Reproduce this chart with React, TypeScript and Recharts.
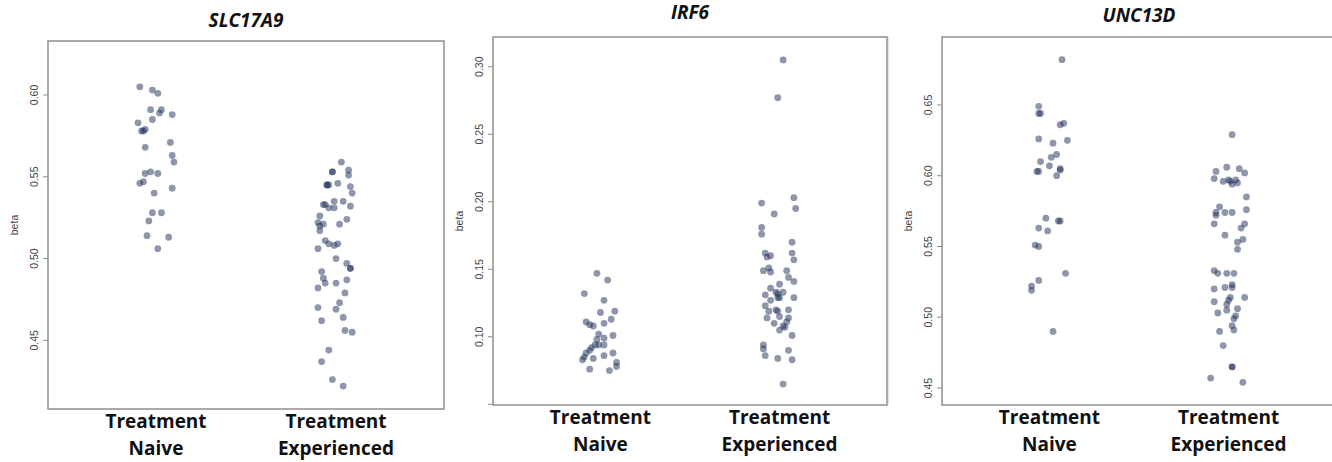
import React from "react";
import { ScatterChart, Scatter, XAxis, YAxis, ReferenceArea } from "recharts";

// group labels (two lines each)
const categories = [
  ["Treatment", "Naive"],
  ["Treatment", "Experienced"],
];

const slcNaiveX = [0.91, 0.98, 1.01, 0.97, 1.03, 1.02, 1.09, 0.98, 0.9, 0.92, 0.93, 0.94, 1.08, 0.94, 1.09, 1.1, 0.97, 1.01, 0.94, 0.93, 0.91, 1.09, 0.99, 0.98, 1.03, 0.96, 0.95, 1.07, 1.01];
const slcNaiveBeta = [0.605, 0.603, 0.601, 0.591, 0.591, 0.589, 0.588, 0.585, 0.583, 0.578, 0.578, 0.579, 0.571, 0.568, 0.563, 0.559, 0.553, 0.552, 0.552, 0.547, 0.546, 0.543, 0.54, 0.528, 0.528, 0.523, 0.514, 0.513, 0.506];
const slcExpX = [2.03, 1.98, 1.98, 2.07, 2.07, 1.95, 1.96, 1.95, 2.01, 2.08, 2.09, 1.93, 1.94, 1.99, 2.04, 1.96, 1.99, 2.08, 1.91, 1.9, 1.93, 2.06, 2.02, 1.91, 1.91, 1.94, 1.96, 1.99, 2.01, 1.9, 2.0, 2.06, 2.08, 2.08, 1.92, 1.93, 1.94, 2.0, 2.06, 1.9, 2.05, 2.02, 1.9, 2.0, 1.92, 2.04, 2.05, 2.09, 1.96, 1.92, 1.98, 2.04];
const slcExpBeta = [0.559, 0.553, 0.553, 0.554, 0.551, 0.545, 0.545, 0.545, 0.546, 0.544, 0.54, 0.533, 0.533, 0.535, 0.535, 0.531, 0.531, 0.532, 0.526, 0.522, 0.521, 0.524, 0.521, 0.52, 0.517, 0.511, 0.509, 0.508, 0.509, 0.506, 0.5, 0.497, 0.494, 0.494, 0.492, 0.488, 0.485, 0.485, 0.487, 0.482, 0.479, 0.473, 0.47, 0.469, 0.462, 0.464, 0.456, 0.455, 0.444, 0.437, 0.426, 0.422];

// IRF6
const irfNaiveX = [0.98, 1.04, 0.91, 1.02, 1.0, 1.08, 0.92, 0.94, 0.96, 1.02, 1.06, 0.99, 1.07, 0.98, 1.02, 0.97, 0.99, 1.02, 0.95, 0.94, 0.92, 0.91, 0.9, 0.96, 1.02, 1.07, 1.09, 1.09, 0.94, 1.05];
const irfNaiveBeta = [0.147, 0.142, 0.132, 0.127, 0.118, 0.119, 0.111, 0.109, 0.108, 0.11, 0.113, 0.102, 0.101, 0.098, 0.099, 0.094, 0.094, 0.094, 0.092, 0.09, 0.088, 0.085, 0.083, 0.084, 0.086, 0.088, 0.081, 0.078, 0.076, 0.075];
const irfExpX = [2.02, 1.99, 2.08, 1.9, 2.09, 1.97, 1.9, 1.9, 2.07, 1.92, 1.93, 1.95, 2.07, 2.08, 1.91, 1.94, 1.95, 2.04, 2.05, 2.08, 2.0, 1.95, 1.98, 1.99, 2.0, 1.99, 2.02, 1.92, 1.95, 2.08, 1.92, 1.98, 1.99, 1.94, 2.05, 2.0, 1.93, 2.05, 2.04, 1.97, 2.02, 2.03, 2.0, 2.07, 1.91, 1.91, 2.05, 1.92, 1.99, 2.07, 2.02];
const irfExpBeta = [0.305, 0.277, 0.203, 0.199, 0.195, 0.191, 0.181, 0.176, 0.17, 0.162, 0.159, 0.16, 0.162, 0.157, 0.149, 0.151, 0.148, 0.149, 0.144, 0.141, 0.139, 0.136, 0.133, 0.132, 0.129, 0.129, 0.133, 0.131, 0.127, 0.129, 0.123, 0.12, 0.119, 0.119, 0.12, 0.115, 0.114, 0.114, 0.111, 0.11, 0.108, 0.107, 0.105, 0.101, 0.094, 0.091, 0.09, 0.086, 0.084, 0.083, 0.065];

// UNC13D
const uncNaiveX = [1.07, 0.94, 0.94, 0.95, 1.06, 1.08, 0.94, 1.02, 1.1, 0.95, 1.01, 1.04, 1.0, 0.93, 0.94, 1.06, 1.06, 1.04, 0.98, 1.05, 1.06, 0.94, 0.99, 0.92, 0.94, 1.09, 0.94, 0.9, 0.9, 1.02];
const uncNaiveBeta = [0.682, 0.649, 0.644, 0.644, 0.636, 0.637, 0.626, 0.623, 0.625, 0.61, 0.613, 0.615, 0.607, 0.603, 0.603, 0.605, 0.604, 0.6, 0.57, 0.568, 0.568, 0.563, 0.561, 0.551, 0.55, 0.531, 0.526, 0.522, 0.519, 0.49];
const uncExpX = [2.02, 1.93, 1.99, 2.06, 2.09, 1.92, 1.97, 2.0, 2.01, 2.04, 2.05, 2.02, 2.1, 1.95, 1.93, 1.93, 1.98, 2.02, 2.1, 1.92, 2.09, 2.07, 1.98, 2.08, 2.05, 2.05, 1.92, 1.94, 1.99, 2.03, 2.02, 2.02, 1.92, 1.98, 2.09, 2.01, 2.0, 1.92, 1.99, 1.94, 1.99, 2.05, 2.04, 2.03, 1.95, 2.02, 2.03, 1.97, 2.02, 2.02, 1.9, 2.08];
const uncExpBeta = [0.629, 0.603, 0.606, 0.605, 0.602, 0.598, 0.596, 0.597, 0.596, 0.597, 0.595, 0.594, 0.585, 0.578, 0.574, 0.572, 0.574, 0.574, 0.576, 0.566, 0.566, 0.563, 0.558, 0.555, 0.553, 0.548, 0.533, 0.531, 0.531, 0.531, 0.523, 0.521, 0.52, 0.521, 0.514, 0.514, 0.512, 0.511, 0.509, 0.503, 0.505, 0.506, 0.501, 0.499, 0.49, 0.494, 0.491, 0.48, 0.465, 0.465, 0.457, 0.454];

const toPoints = (xs: number[], ys: number[]) => xs.map((x, i) => ({ x, y: ys[i] }));

const DOT = "#1e2d5a";
const FRAME = "#8f8f8f";
const TICK_TEXT = "#444";

const Dot = (props: any) => (
  <circle cx={props.cx} cy={props.cy} r={3.4} fill={DOT} fillOpacity={0.5} />
);

interface PanelProps {
  title: string;
  left: number;
  plotLeft: number;
  plotTop: number;
  plotRight: number;
  yDomain: [number, number];
  yTicks: number[];
  labelFrom?: number;
  naive: { x: number; y: number }[];
  experienced: { x: number; y: number }[];
  titleY: number;
}

const W = 460;
const H = 462;
const PLOT_H = 368;

const Panel = ({ title, left, plotLeft, plotTop, plotRight, yDomain, yTicks, labelFrom = 0, naive, experienced, titleY }: PanelProps) => {
  const yAxisW = 40;
  const xAxisH = 50;
  const margin = {
    top: plotTop,
    left: plotLeft - yAxisW,
    right: W - plotRight,
    bottom: H - plotTop - PLOT_H - xAxisH,
  };

  const YTick = ({ x, y, payload }: any) => (
    <g>
      <line x1={x - 5} x2={x} y1={y} y2={y} stroke={FRAME} />
      {payload.value >= labelFrom && (
        <text
          x={x - 14}
          y={y}
          transform={`rotate(-90 ${x - 14} ${y})`}
          textAnchor="middle"
          dominantBaseline="central"
          fontSize={10.5}
          fontFamily="Liberation Sans, Arial, sans-serif"
          fill={TICK_TEXT}
        >
          {payload.value.toFixed(2)}
        </text>
      )}
    </g>
  );

  const XTick = ({ x, y, payload }: any) => {
    const lines = categories[payload.value - 1];
    return (
      <text
        x={x}
        y={y + 19}
        textAnchor="middle"
        fontSize={19}
        fontWeight={700}
        fontFamily="Open Sans, sans-serif"
        fill="#111"
      >
        <tspan x={x}>{lines[0]}</tspan>
        <tspan x={x} dy={27}>{lines[1]}</tspan>
      </text>
    );
  };

  const midX = (plotLeft + plotRight) / 2;

  return (
    <div style={{ position: "absolute", left, top: 0, width: W, height: H }}>
      <div
        style={{
          position: "absolute",
          left: 0,
          width: midX * 2,
          top: titleY - 12,
          textAlign: "center",
          fontFamily: "Open Sans, sans-serif",
          fontWeight: 700,
          fontStyle: "italic",
          fontSize: 19,
          lineHeight: "24px",
          color: "#111",
        }}
      >
        {title}
      </div>
      <div
        style={{
          position: "absolute",
          left: plotLeft - 34 - 20,
          top: plotTop + PLOT_H / 2 - 8,
          width: 40,
          textAlign: "center",
          transform: "rotate(-90deg)",
          fontFamily: "Liberation Sans, Arial, sans-serif",
          fontSize: 10.5,
          lineHeight: "16px",
          color: TICK_TEXT,
        }}
      >
        beta
      </div>
      <div style={{ position: "absolute", left: 0, top: 0 }}>
        <ScatterChart width={W} height={H} margin={margin}>
          <XAxis
            type="number"
            dataKey="x"
            domain={[0.4, 2.6]}
            ticks={[1, 2]}
            height={xAxisH}
            axisLine={false}
            tickLine={false}
            tickSize={0}
            tickMargin={0}
            tick={<XTick />}
            allowDataOverflow
          />
          <YAxis
            type="number"
            dataKey="y"
            domain={yDomain}
            ticks={yTicks}
            width={yAxisW}
            axisLine={false}
            tickLine={false}
            tickSize={0}
            tickMargin={0}
            tick={<YTick />}
            allowDataOverflow
          />
          <ReferenceArea
            x1={0.4}
            x2={2.6}
            y1={yDomain[0]}
            y2={yDomain[1]}
            fill="none"
            stroke={FRAME}
            strokeWidth={1.5}
            ifOverflow="visible"
          />
          <Scatter data={naive} shape={<Dot />} isAnimationActive={false} />
          <Scatter data={experienced} shape={<Dot />} isAnimationActive={false} />
        </ScatterChart>
      </div>
    </div>
  );
};

export default function App() {
  return (
    <div style={{ position: "absolute", left: 0, top: 0, width: 1332, height: 462, overflow: "hidden", background: "#fff" }}>
      <Panel
        title="SLC17A9"
        left={0}
        plotLeft={48}
        plotTop={41}
        plotRight={444}
        yDomain={[0.408, 0.633]}
        yTicks={[0.45, 0.5, 0.55, 0.6]}
        naive={toPoints(slcNaiveX, slcNaiveBeta)}
        experienced={toPoints(slcExpX, slcExpBeta)}
        titleY={20}
      />
      <Panel
        title="IRF6"
        left={444}
        plotLeft={49}
        plotTop={37}
        plotRight={443}
        yDomain={[0.0495, 0.322]}
        yTicks={[0.05, 0.1, 0.15, 0.2, 0.25, 0.3]}
        labelFrom={0.09}
        naive={toPoints(irfNaiveX, irfNaiveBeta)}
        experienced={toPoints(irfExpX, irfExpBeta)}
        titleY={12}
      />
      <div style={{ position: "absolute", left: 888, top: 37, width: 1, height: 368, background: "#e4e4e4" }} />
      <Panel
        title="UNC13D"
        left={888}
        plotLeft={54}
        plotTop={37}
        plotRight={448}
        yDomain={[0.438, 0.698]}
        yTicks={[0.45, 0.5, 0.55, 0.6, 0.65]}
        naive={toPoints(uncNaiveX, uncNaiveBeta)}
        experienced={toPoints(uncExpX, uncExpBeta)}
        titleY={15}
      />
    </div>
  );
}
